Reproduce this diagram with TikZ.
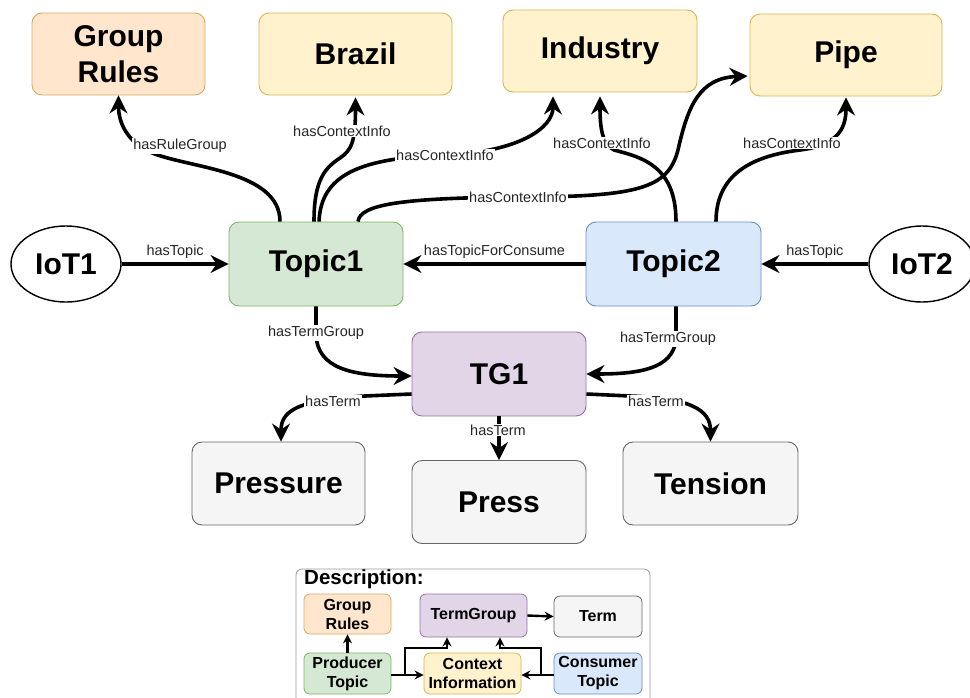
\documentclass[tikz,border=0pt]{standalone}
\usepackage{fontspec}
\setmainfont{Liberation Sans}
\usetikzlibrary{arrows.meta,shapes.geometric,calc}
\definecolor{orF}{HTML}{FFE6CC}\definecolor{orD}{HTML}{D6A96A}
\definecolor{yeF}{HTML}{FFF2CC}\definecolor{yeD}{HTML}{D6B656}
\definecolor{grF}{HTML}{D5E8D4}\definecolor{grD}{HTML}{82B366}
\definecolor{blF}{HTML}{DAE8FC}\definecolor{blD}{HTML}{6C8EBF}
\definecolor{puF}{HTML}{E1D5E7}\definecolor{puD}{HTML}{9673A6}
\definecolor{gyF}{HTML}{F5F5F5}\definecolor{gyD}{HTML}{666666}
\begin{document}
\begin{tikzpicture}[x=1pt,y=-1pt,
  mybox/.style={draw, rounded corners=10pt, line width=0.9pt, align=center, inner sep=0pt,
    font=\fontsize{30}{36}\selectfont\bfseries},
  lbox/.style={draw, rounded corners=6pt, line width=0.8pt, align=center, inner sep=0pt,
    font=\fontsize{16}{19}\selectfont\bfseries},
  orbox/.style={fill=orF, draw=orD}, yebox/.style={fill=yeF, draw=yeD},
  grbox/.style={fill=grF, draw=grD}, blbox/.style={fill=blF, draw=blD},
  pubox/.style={fill=puF, draw=puD}, gybox/.style={fill=gyF, draw=gyD},
  iot/.style={draw, ellipse, line width=1.4pt, inner sep=0pt, font=\fontsize{30}{36}\selectfont\bfseries},
  lab/.style={fill=white, inner sep=1pt, text=black!85, font=\fontsize{14.5}{16}\selectfont},
  labnf/.style={inner sep=1pt, text=black!85, font=\fontsize{14.5}{16}\selectfont},
  conn/.style={line width=3.6pt, -{Stealth[length=18pt,width=18pt,inset=6pt]}},
  lconn/.style={line width=2.4pt, -{Stealth[length=9pt,width=9pt,inset=3pt]}}
]
\useasboundingbox (0,0) rectangle (970,697);
% top nodes
\node[mybox,orbox,minimum width=173pt,minimum height=82pt] (GR) at (118.5,54) {Group\\Rules};
\node[mybox,yebox,minimum width=193pt,minimum height=82pt] (BR) at (355.5,54) {Brazil};
\node[mybox,yebox,minimum width=194pt,minimum height=82pt] (IN) at (600,51) {Industry};
\node[mybox,yebox,minimum width=192pt,minimum height=82pt] (PI) at (846,55) {Pipe};
% middle
\node[iot,minimum width=110pt,minimum height=76pt] (IOT1) at (66,264) {IoT1};
\node[iot,minimum width=106pt,minimum height=76pt] (IOT2) at (922,264) {IoT2};
\node[mybox,grbox,minimum width=174pt,minimum height=84pt] (T1) at (316,264) {Topic1};
\node[mybox,blbox,minimum width=175pt,minimum height=84pt] (T2) at (673.5,264) {Topic2};
\node[mybox,pubox,minimum width=174pt,minimum height=84pt] (TG) at (499,374) {TG1};
% bottom
\node[mybox,gybox,minimum width=173pt,minimum height=83pt] (PR) at (278.5,483.5) {Pressure};
\node[mybox,gybox,minimum width=174pt,minimum height=83pt] (PS) at (499,502) {Press};
\node[mybox,gybox,minimum width=175pt,minimum height=83pt] (TE) at (710.5,483.5) {Tension};

% horizontal connectors
\draw[conn] (IOT1.east) -- node[labnf,above=3pt] {hasTopic} (T1.west);
\draw[conn] (T2.west) -- node[labnf,above=3pt] {hasTopicForConsume} (T1.east);
\draw[conn] (IOT2.west) -- node[labnf,above=3pt] {hasTopic} (T2.east);

% top connectors from Topic1
\draw[conn] ($(T1.north)+(-36,0)$) .. controls +(0,-52) and (185,168) .. (150,152)
   .. controls (128,142) and ($(GR.south)+(0,28)$) .. (GR.south);
\node[lab] (L1) at (180,146) {hasRuleGroup};
\draw[conn] ($(T1.north)+(-2,0)$) .. controls +(0,-42) and (325,168) .. (340,158)
   .. controls (352,150) and ($(BR.south)+(0,45)$) .. ($(BR.south)+(0,2)$);
\node[lab] (L2) at (342,131) {hasContextInfo};
\draw[conn] ($(T1.north)+(3,0)$) .. controls +(2,-47) and (360,158) .. (445,155)
   .. controls (520,152) and ($(IN.south)+(-47,35)$) .. ($(IN.south)+(-47,4)$);
\node[lab] (L3) at (445,155) {hasContextInfo};
\draw[conn] ($(T1.north)+(42,0)$) .. controls +(2,-17) and (400,198) .. (518,197)
   .. controls (640,197) and (668,188) .. (678,150)
   .. controls (688,105) and (700,78) .. ($(PI.west)+(-2,21)$);
\node[lab] (L4) at (518,197) {hasContextInfo};
% top connectors from Topic2
\draw[conn] ($(T2.north)+(2.5,0)$) .. controls +(0,-57) and (640,157) .. (614,150)
   .. controls (602,144) and ($(IN.south)+(0,35)$) .. ($(IN.south)+(0,4)$);
\node[lab] (L5) at (602,143) {hasContextInfo};
\draw[conn] ($(T2.north)+(42.5,0)$) .. controls +(0,-52) and (760,155) .. (800,150)
   .. controls (840,145) and ($(PI.south)+(0,30)$) .. ($(PI.south)+(0,1)$);
\node[lab] (L6) at (792,143) {hasContextInfo};

% to TG1
\draw[conn] (T1.south) -- ++(0,29) .. controls +(2,32) and ($(TG.west)+(-62,2)$) .. ($(TG.west)+(0,2)$);
\node[lab] (L7) at (316,333) {hasTermGroup};
\draw[conn] ($(T2.south)+(2.5,0)$) -- ++(0,34) .. controls +(-4,28) and ($(TG.east)+(54,0)$) .. (TG.east);
\node[lab] (L8) at (668,339) {hasTermGroup};

% from TG1
\draw[conn] ($(TG.west)+(0,20)$) -- (365,396) .. controls (300,400) and ($(PR.north)+(2.5,-32)$) .. ($(PR.north)+(2.5,0)$);
\node[lab] (L9) at (333,401) {hasTerm};
\draw[conn] (TG.south) -- (PS.north);
\node[lab] (L10) at (498,430) {hasTerm};
\draw[conn] ($(TG.east)+(0,20)$) -- (630,396) .. controls (690,398) and ($(TE.north)+(0,-32)$) .. (TE.north);
\node[lab] (L11) at (656,401) {hasTerm};

% legend
\draw[draw=gray!80, line width=0.8pt, rounded corners=6pt] (296,569) rectangle (650,720);
\node[anchor=west, inner sep=0pt, font=\fontsize{20.5}{22}\selectfont\bfseries] (DESC) at (304,579.5) {Description:};
\node[lbox,orbox,minimum width=87pt,minimum height=40pt] (LGR) at (347.5,614) {Group\\Rules};
\node[lbox,pubox,minimum width=107pt,minimum height=43pt] (LTG) at (473.5,615.5) {TermGroup};
\node[lbox,gybox,minimum width=88pt,minimum height=41pt] (LT) at (598,616.5) {Term};
\node[lbox,grbox,minimum width=87pt,minimum height=41pt] (LPT) at (347.5,673.5) {Producer\\Topic};
\node[lbox,yebox,minimum width=97pt,minimum height=41pt] (LCI) at (472.5,673.5) {Context\\Information};
\node[lbox,blbox,minimum width=88pt,minimum height=41pt] (LCT) at (598,673.5) {Consumer\\Topic};
\draw[lconn] (LPT.north) -- (LGR.south);
\draw[lconn] ($(LPT.east)+(0,1.5)$) -- ($(LCI.west)+(0,1.5)$);
\draw[lconn] ($(LCT.west)+(0,1.5)$) -- ($(LCI.east)+(0,1.5)$);
\draw[lconn] (LTG.east) -- (LT.west);
\draw[lconn] (405,675) -- (405,648) -- (447,648) -- ($(LTG.south)+(-26.5,0)$);
\draw[lconn] (541,675) -- (541,648) -- (500,648) -- ($(LTG.south)+(26.5,0)$);
\end{tikzpicture}
\end{document}
